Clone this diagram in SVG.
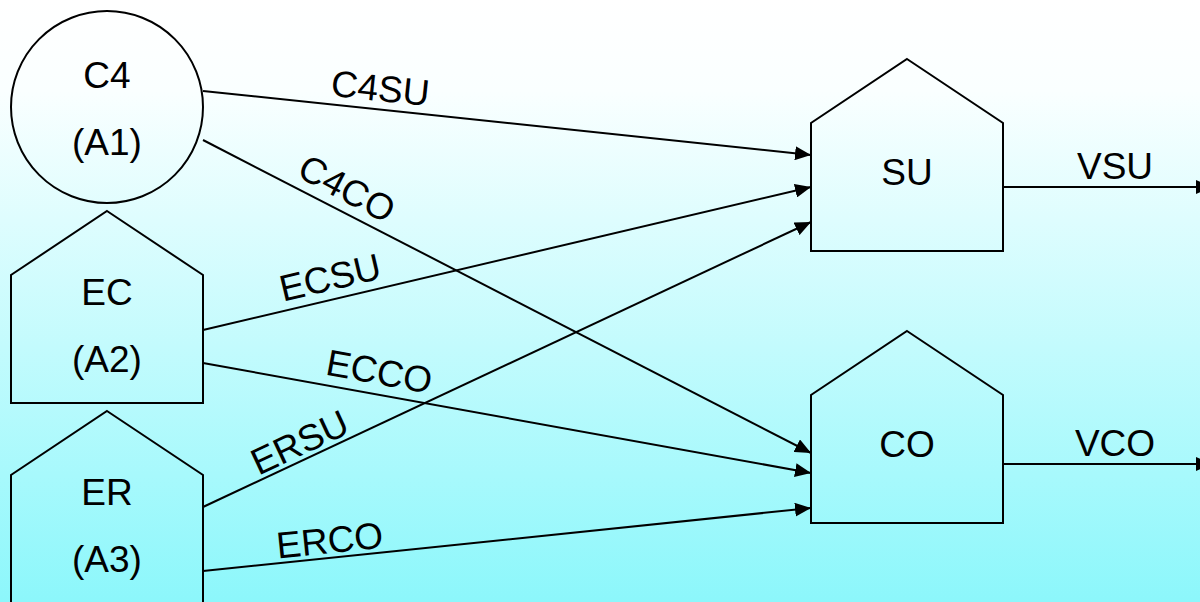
<svg xmlns="http://www.w3.org/2000/svg" width="1200" height="602" viewBox="0 0 1200 602">
  <defs>
    <linearGradient id="bg" x1="0" y1="0" x2="0" y2="1">
      <stop offset="0" stop-color="#FFFFFF"/>
      <stop offset="0.15" stop-color="#FAFFFF"/>
      <stop offset="1" stop-color="#8CF7FB"/>
    </linearGradient>
    <marker id="arrow" markerUnits="userSpaceOnUse" markerWidth="18" markerHeight="14" refX="16" refY="7" orient="auto">
      <path d="M0,0 L16,7 L0,14 Z" fill="#000"/>
    </marker>
    <style>
      .shape { fill: none; stroke: #000; stroke-width: 2; }
      .conn { fill: none; stroke: #000; stroke-width: 2; marker-end: url(#arrow); }
      .lbl { font-family: "Liberation Sans", Arial, sans-serif; font-size: 37px; fill: #000; text-anchor: middle; }
    </style>
  </defs>
  <rect x="0" y="0" width="1200" height="602" fill="url(#bg)"/>

  <g id="connectors">
    <line class="conn" x1="203" y1="91" x2="811" y2="155"/>
    <line class="conn" x1="203" y1="140" x2="811" y2="453"/>
    <line class="conn" x1="203" y1="330" x2="811" y2="187"/>
    <line class="conn" x1="203" y1="363" x2="811" y2="473"/>
    <line class="conn" x1="203" y1="507" x2="811" y2="222"/>
    <line class="conn" x1="203" y1="571" x2="811" y2="508"/>
    <line class="conn" x1="1003" y1="187" x2="1212" y2="187"/>
    <line class="conn" x1="1003" y1="464" x2="1212" y2="464"/>
    <text class="lbl" transform="translate(379,101) rotate(6)">C4SU</text>
    <text class="lbl" transform="translate(341,200) rotate(28)">C4CO</text>
    <text class="lbl" transform="translate(333,290) rotate(-13.2)">ECSU</text>
    <text class="lbl" transform="translate(377,384) rotate(10.3)">ECCO</text>
    <text class="lbl" transform="translate(305,454) rotate(-25)">ERSU</text>
    <text class="lbl" transform="translate(331,553) rotate(-5.9)">ERCO</text>
    <text class="lbl" x="1115" y="179">VSU</text>
    <text class="lbl" x="1115" y="456">VCO</text>
  </g>

  <g id="node-C4">
    <circle class="shape" cx="107" cy="107" r="96"/>
    <text class="lbl" x="107" y="88">C4</text>
    <text class="lbl" x="107" y="155">(A1)</text>
  </g>
  <g id="node-EC">
    <polygon class="shape" points="107,211 203,275 203,403 11,403 11,275"/>
    <text class="lbl" x="107" y="305">EC</text>
    <text class="lbl" x="107" y="372">(A2)</text>
  </g>
  <g id="node-ER">
    <polygon class="shape" points="107,411 203,475 203,640 11,640 11,475"/>
    <text class="lbl" x="107" y="505">ER</text>
    <text class="lbl" x="107" y="572">(A3)</text>
  </g>
  <g id="node-SU">
    <polygon class="shape" points="907,59 1003,123 1003,251 811,251 811,123"/>
    <text class="lbl" x="907" y="185">SU</text>
  </g>
  <g id="node-CO">
    <polygon class="shape" points="907,331 1003,395 1003,523 811,523 811,395"/>
    <text class="lbl" x="907" y="457">CO</text>
  </g>
</svg>
